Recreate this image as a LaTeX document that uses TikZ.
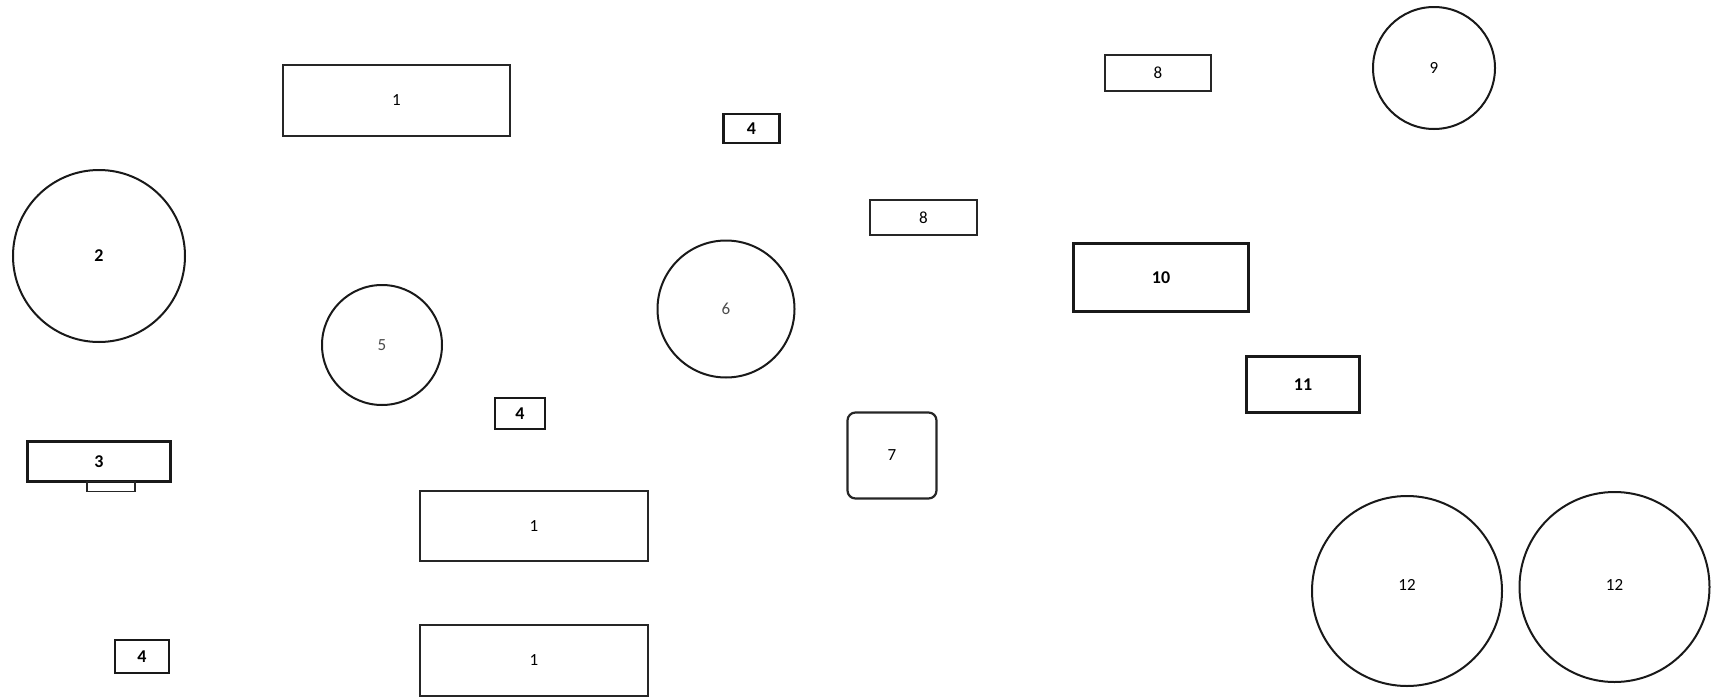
\documentclass[tikz,border=0pt]{standalone}
\usepackage{fontspec}
\setmainfont{Carlito}
\begin{document}
\begin{tikzpicture}[x=1pt,y=-1pt,
  box/.style={draw=black!85,line width=1.8pt,rectangle,inner sep=0pt,font=\fontsize{17}{20}\selectfont},
  bbox/.style={draw=black!90,line width=2.8pt,rectangle,inner sep=0pt,font=\bfseries\fontsize{18}{21}\selectfont},
  circ/.style={draw=black!90,line width=2pt,circle,inner sep=0pt,font=\fontsize{17}{20}\selectfont},
  bcirc/.style={draw=black!90,line width=2pt,circle,inner sep=0pt,font=\bfseries\fontsize{18}{21}\selectfont}]
\useasboundingbox (0,0) rectangle (1711,699);
% rectangles "1"
\node[box,minimum width=227pt,minimum height=71pt] (r1a) at (396.5,100.5) {1};
\node[box,minimum width=228pt,minimum height=70pt] (r1b) at (534,526) {1};
\node[box,minimum width=228pt,minimum height=71pt] (r1c) at (534,660.5) {1};
% circle 2
\node[bcirc,minimum size=172pt] (c2) at (99,256) {2};
% box 3 with tab
\node[bbox,minimum width=143pt,minimum height=40pt] (r3) at (99,461.5) {3};
\node[draw=black!85,line width=1.5pt,rectangle,inner sep=0pt,minimum width=48pt,minimum height=10pt,anchor=north] (r3tab) at ([xshift=12pt,yshift=2.2pt]r3.south) {};
% small boxes 4
\node[bbox,minimum width=56pt,minimum height=29pt] (r4a) at (751.5,128.5) {4};
\node[bbox,minimum width=50pt,minimum height=31pt] (r4b) at (520,413.5) {4};
\node[bbox,minimum width=54pt,minimum height=33pt] (r4c) at (142,656.5) {4};
% circles 5, 6
\node[circ,minimum size=120pt,text=black!70] (c5) at (382,345) {5};
\node[circ,minimum size=137pt,text=black!70] (c6) at (726,309) {6};
% rounded box 7
\node[box,line width=2.2pt,rounded corners=8pt,minimum width=89pt,minimum height=86pt] (r7) at (892,455.5) {7};
% boxes 8
\node[box,minimum width=107pt,minimum height=35pt] (r8a) at (923.5,217.5) {8};
\node[box,minimum width=106pt,minimum height=36pt] (r8b) at (1158,73) {8};
% circle 9
\node[circ,minimum size=122pt] (c9) at (1434,68) {9};
% boxes 10, 11
\node[bbox,minimum width=175pt,minimum height=68pt] (r10) at (1161,277.5) {10};
\node[bbox,minimum width=113pt,minimum height=56pt] (r11) at (1303,384.5) {11};
% circles 12
\node[circ,minimum size=190pt,label={[font=\fontsize{17}{20}\selectfont,yshift=6pt]center:12}] (c12a) at (1407,591) {};
\node[circ,minimum size=190pt,label={[font=\fontsize{17}{20}\selectfont,yshift=2pt]center:12}] (c12b) at (1614.5,587) {};
\end{tikzpicture}
\end{document}
